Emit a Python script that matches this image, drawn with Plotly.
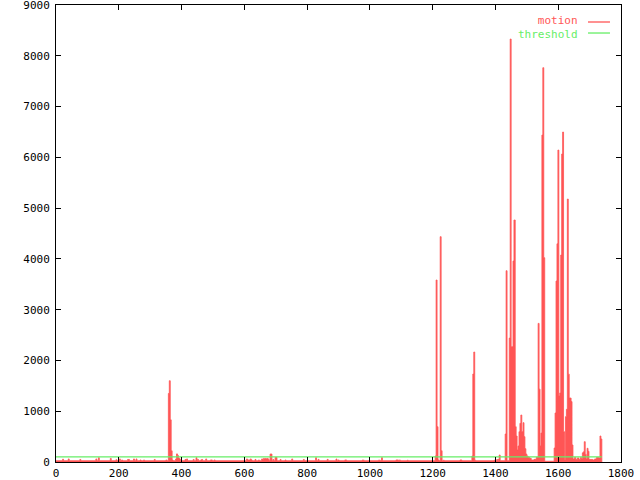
import plotly.graph_objects as go

# motion samples (step data: each value holds until the next frame)
FRAME = [0, 21, 24, 39, 42, 76, 79, 127, 130, 135, 138, 173, 176, 191, 194, 202, 205, 209, 212,
         228, 234, 247, 250, 255, 258, 268, 271, 279, 282, 313, 316, 350, 353,
         358, 361, 364, 367, 370, 373, 381, 384, 387, 390, 393, 396,
         411, 414, 416, 419, 437, 440, 446, 449, 451, 454, 461, 464, 467, 477, 480, 492, 498, 504, 507,
         607, 610, 616, 619, 622, 625, 634, 637, 645, 648,
         655, 658, 661, 664, 667, 670, 673, 676, 679, 682, 685, 688, 691, 694, 698, 701, 704,
         714, 717, 730, 733, 751, 754, 788, 791, 827, 830, 835, 838, 864, 867, 892, 895, 899, 902,
         920, 926, 976, 979, 982, 1027, 1033, 1037, 1040, 1083, 1091, 1094, 1097, 1119, 1122,
         1208, 1211, 1214, 1217, 1220, 1224, 1227, 1230, 1234, 1237, 1287, 1293,
         1325, 1328, 1331, 1334, 1337, 1396, 1399, 1404, 1407, 1409, 1412, 1415,
         1431, 1434, 1437, 1444, 1447, 1450, 1453, 1456, 1459, 1463, 1466, 1469, 1472, 1475,
         1478, 1481, 1484, 1488, 1491, 1494, 1497, 1500, 1504, 1509, 1514, 1523, 1530,
         1536, 1539, 1542, 1545, 1548, 1551, 1554, 1557,
         1587, 1590, 1593, 1596, 1599, 1602, 1605, 1608, 1611, 1614, 1617, 1620, 1623, 1626,
         1629, 1632, 1635, 1638, 1641, 1644, 1647, 1652, 1656, 1661, 1666, 1671, 1674, 1677,
         1680, 1683, 1686, 1689, 1692, 1695, 1698, 1710, 1716, 1722, 1729, 1733, 1736, 1739]
MOTION = [25, 55, 25, 60, 25, 50, 25, 60, 25, 85, 25, 70, 25, 45, 25, 60, 25, 40, 25,
          50, 25, 60, 25, 60, 25, 40, 25, 40, 25, 50, 25, 40, 25,
          1350, 1600, 830, 220, 40, 25, 60, 160, 130, 80, 60, 25,
          50, 25, 60, 25, 50, 25, 85, 25, 50, 25, 40, 50, 25, 60, 25, 40, 25, 40, 25,
          60, 40, 40, 60, 40, 25, 50, 25, 40, 25,
          60, 50, 70, 60, 70, 60, 70, 50, 25, 157, 157, 25, 50, 25, 90, 90, 25,
          50, 25, 40, 25, 60, 25, 50, 25, 85, 25, 52, 25, 52, 25, 59, 25, 40, 25,
          40, 25, 40, 35, 25, 35, 25, 85, 25, 40, 25, 40, 25, 35, 25,
          118, 3584, 695, 40, 25, 4437, 223, 25, 35, 25, 40, 25,
          118, 1733, 2166, 35, 25, 35, 25, 50, 25, 52, 138, 25,
          551, 3767, 25, 2440, 8330, 2270, 2270, 3958, 4765, 695, 512, 236, 315, 597,
          761, 925, 597, 774, 499, 262, 157, 118, 92, 72, 39, 52, 92,
          2730, 1435, 315, 570, 6438, 7765, 4023, 15,
          275, 965, 3564, 4298, 6143, 1300, 1360, 4076, 6065, 6498, 597, 40, 893, 1037,
          5178, 1730, 1260, 1260, 1190, 335, 60, 90, 50, 80, 50, 90, 60, 180,
          200, 400, 150, 60, 270, 210, 50, 40, 60, 90, 80, 512, 453, 0]

THRESH_X = [0, 1739]
THRESH_Y = [100, 100]

X_TICKS = list(range(0, 1801, 200))
Y_TICKS = list(range(0, 9001, 1000))

RED = "#ff5555"
GREEN = "#66ee66"
FONT = dict(family="DejaVu Sans Mono", size=11, color="black")

fig = go.Figure()
fig.add_trace(go.Scatter(x=FRAME, y=MOTION, mode="lines", line_shape="hv",
                         line=dict(width=0.8, color=RED), fill="tozeroy",
                         fillcolor=RED, name="motion", showlegend=False))
fig.add_trace(go.Scatter(x=THRESH_X, y=THRESH_Y, mode="lines",
                         line=dict(width=1.3, color=GREEN), name="threshold",
                         showlegend=False))

axis_common = dict(showline=True, linecolor="black", linewidth=1, mirror="ticks",
                   ticks="inside", ticklen=5, tickcolor="black", showgrid=False,
                   zeroline=False, tickfont=FONT, automargin=False,
                   ticklabeloverflow="allow")
fig.update_xaxes(range=[0, 1800], tickvals=X_TICKS, ticktext=[str(v) for v in X_TICKS],
                 ticklabelstandoff=1, **axis_common)
fig.update_yaxes(range=[0, 9000], tickvals=Y_TICKS, ticktext=[str(v) for v in Y_TICKS],
                 ticklabelstandoff=3, **axis_common)

# gnuplot-style key: text on the left, sample on the right
fig.add_annotation(x=0.9274, y=0.951, xref="paper", yref="paper",
                   text=f"<span style='color:{RED}'>motion</span><br>"
                        f"<span style='color:{GREEN}'>threshold</span>",
                   showarrow=False, xanchor="right", yanchor="middle", align="right",
                   font=dict(family="DejaVu Sans Mono", size=11, color=RED))
for color, ypos in ((RED, 0.9628), (GREEN, 0.9387)):
    fig.add_shape(type="line", xref="paper", yref="paper", x0=0.9416, x1=0.9805,
                  y0=ypos, y1=ypos, line=dict(color=color, width=1.3))

fig.update_layout(width=640, height=480, margin=dict(l=56, r=19, t=5, b=18),
                  plot_bgcolor="white", paper_bgcolor="white", showlegend=False)

fig.write_html("out.html", config={"displayModeBar": False},
               post_script="document.body.style.margin='0';document.body.style.overflow='hidden';")
